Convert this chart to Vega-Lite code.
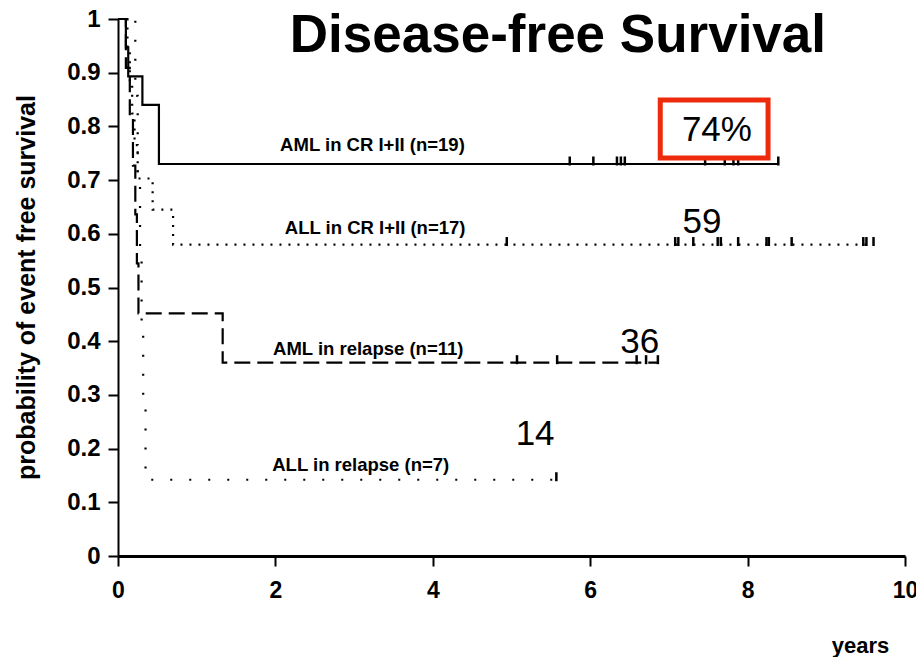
{
  "$schema": "https://vega.github.io/schema/vega-lite/v6.json",
  "width": 787,
  "height": 537,
  "autosize": {"type": "none"},
  "padding": {"left": 118, "top": 19, "right": 11, "bottom": 101},
  "background": "white",
  "config": {
    "view": {"stroke": null},
    "font": "Liberation Sans",
    "axis": {"grid": false, "domainColor": "black", "tickColor": "black", "labelColor": "black", "titleColor": "black"}
  },
  "datasets": {
    "curves": [
      {"series": "AML in CR I+II", "t": 0, "s": 1},
      {"series": "AML in CR I+II", "t": 0.1, "s": 0.947},
      {"series": "AML in CR I+II", "t": 0.13, "s": 0.893},
      {"series": "AML in CR I+II", "t": 0.31, "s": 0.84},
      {"series": "AML in CR I+II", "t": 0.52, "s": 0.73},
      {"series": "AML in CR I+II", "t": 8.39, "s": 0.73},
      {"series": "ALL in CR I+II", "t": 0, "s": 1},
      {"series": "ALL in CR I+II", "t": 0.12, "s": 0.941},
      {"series": "ALL in CR I+II", "t": 0.15, "s": 0.882},
      {"series": "ALL in CR I+II", "t": 0.18, "s": 0.824},
      {"series": "ALL in CR I+II", "t": 0.21, "s": 0.765},
      {"series": "ALL in CR I+II", "t": 0.25, "s": 0.703},
      {"series": "ALL in CR I+II", "t": 0.44, "s": 0.645},
      {"series": "ALL in CR I+II", "t": 0.7, "s": 0.58},
      {"series": "ALL in CR I+II", "t": 9.6, "s": 0.58},
      {"series": "AML in relapse", "t": 0, "s": 1},
      {"series": "AML in relapse", "t": 0.1, "s": 0.909},
      {"series": "AML in relapse", "t": 0.15, "s": 0.818},
      {"series": "AML in relapse", "t": 0.19, "s": 0.727},
      {"series": "AML in relapse", "t": 0.22, "s": 0.636},
      {"series": "AML in relapse", "t": 0.24, "s": 0.545},
      {"series": "AML in relapse", "t": 0.26, "s": 0.452},
      {"series": "AML in relapse", "t": 1.33, "s": 0.36},
      {"series": "AML in relapse", "t": 6.86, "s": 0.36},
      {"series": "ALL in relapse", "t": 0, "s": 1},
      {"series": "ALL in relapse", "t": 0.22, "s": 0.857},
      {"series": "ALL in relapse", "t": 0.25, "s": 0.714},
      {"series": "ALL in relapse", "t": 0.28, "s": 0.571},
      {"series": "ALL in relapse", "t": 0.3, "s": 0.429},
      {"series": "ALL in relapse", "t": 0.32, "s": 0.286},
      {"series": "ALL in relapse", "t": 0.35, "s": 0.142},
      {"series": "ALL in relapse", "t": 5.57, "s": 0.142}
    ],
    "censor": [
      {"series": "AML in CR I+II", "t": 5.74, "s": 0.73},
      {"series": "AML in CR I+II", "t": 6.04, "s": 0.73},
      {"series": "AML in CR I+II", "t": 6.34, "s": 0.73},
      {"series": "AML in CR I+II", "t": 6.39, "s": 0.73},
      {"series": "AML in CR I+II", "t": 6.44, "s": 0.73},
      {"series": "AML in CR I+II", "t": 7.46, "s": 0.73},
      {"series": "AML in CR I+II", "t": 7.71, "s": 0.73},
      {"series": "AML in CR I+II", "t": 7.82, "s": 0.73},
      {"series": "AML in CR I+II", "t": 7.88, "s": 0.73},
      {"series": "AML in CR I+II", "t": 8.39, "s": 0.73},
      {"series": "ALL in CR I+II", "t": 4.94, "s": 0.58},
      {"series": "ALL in CR I+II", "t": 7.08, "s": 0.58},
      {"series": "ALL in CR I+II", "t": 7.12, "s": 0.58},
      {"series": "ALL in CR I+II", "t": 7.31, "s": 0.58},
      {"series": "ALL in CR I+II", "t": 7.62, "s": 0.58},
      {"series": "ALL in CR I+II", "t": 7.66, "s": 0.58},
      {"series": "ALL in CR I+II", "t": 7.88, "s": 0.58},
      {"series": "ALL in CR I+II", "t": 8.24, "s": 0.58},
      {"series": "ALL in CR I+II", "t": 8.27, "s": 0.58},
      {"series": "ALL in CR I+II", "t": 8.56, "s": 0.58},
      {"series": "ALL in CR I+II", "t": 9.47, "s": 0.58},
      {"series": "ALL in CR I+II", "t": 9.51, "s": 0.58},
      {"series": "ALL in CR I+II", "t": 9.6, "s": 0.58},
      {"series": "AML in relapse", "t": 5.07, "s": 0.36},
      {"series": "AML in relapse", "t": 5.58, "s": 0.36},
      {"series": "AML in relapse", "t": 6.59, "s": 0.36},
      {"series": "AML in relapse", "t": 6.71, "s": 0.36},
      {"series": "AML in relapse", "t": 6.86, "s": 0.36},
      {"series": "ALL in relapse", "t": 5.57, "s": 0.142}
    ],
    "labels": [
      {"label": "AML in CR I+II (n=19)", "t": 2.06, "s": 0.765},
      {"label": "ALL in CR I+II (n=17)", "t": 2.12, "s": 0.611},
      {"label": "AML in relapse (n=11)", "t": 1.97, "s": 0.385},
      {"label": "ALL in relapse (n=7)", "t": 1.96, "s": 0.169}
    ],
    "numbers": [
      {"label": "74%", "t": 7.61, "s": 0.793},
      {"label": "59", "t": 7.42, "s": 0.622},
      {"label": "36", "t": 6.63, "s": 0.398},
      {"label": "14", "t": 5.3, "s": 0.227}
    ],
    "box": [
      {"x1": 6.89, "x2": 8.26, "y1": 0.741, "y2": 0.849}
    ],
    "heading": [
      {"label": "Disease-free Survival", "t": 5.59, "s": 0.9385}
    ]
  },
  "layer": [
    {
      "data": {"name": "curves"},
      "mark": {"type": "line", "interpolate": "step-after", "color": "black", "strokeWidth": 2.2},
      "encoding": {
        "x": {
          "field": "t", "type": "quantitative",
          "scale": {"domain": [0, 10], "nice": false},
          "axis": {
            "values": [0, 2, 4, 6, 8, 10], "format": "d", "labelFlush": false,
            "labelFontSize": 23, "labelFontWeight": "bold", "labelPadding": 13,
            "tickSize": 10, "tickWidth": 2, "domainWidth": 3,
            "title": "years", "titleFontSize": 22, "titleFontWeight": "bold",
            "titleX": 742, "titleY": 96, "titleAlign": "center", "titleBaseline": "alphabetic"
          }
        },
        "y": {
          "field": "s", "type": "quantitative",
          "scale": {"domain": [0, 1], "nice": false},
          "axis": {
            "values": [0, 0.1, 0.2, 0.3, 0.4, 0.5, 0.6, 0.7, 0.8, 0.9, 1], "format": ".1~f",
            "labelFontSize": 24, "labelFontWeight": "bold", "labelPadding": 8,
            "tickSize": 10, "tickWidth": 2, "domainWidth": 2,
            "title": "probability of event free survival", "titleFontSize": 25, "titleFontWeight": "bold",
            "titleX": -92, "titleY": 268, "titleAngle": 270, "titleAlign": "center", "titleBaseline": "middle"
          }
        },
        "strokeDash": {
          "field": "series", "type": "nominal",
          "scale": {
            "domain": ["AML in CR I+II", "ALL in CR I+II", "AML in relapse", "ALL in relapse"],
            "range": [[1, 0], [2, 7], [16, 7], [2, 17]]
          },
          "legend": null
        }
      }
    },
    {
      "data": {"name": "censor"},
      "mark": {"type": "tick", "orient": "vertical", "color": "black", "size": 9, "thickness": 2.5, "yOffset": -3, "opacity": 1},
      "encoding": {
        "x": {"field": "t", "type": "quantitative"},
        "y": {"field": "s", "type": "quantitative"}
      }
    },
    {
      "data": {"name": "labels"},
      "mark": {"type": "text", "align": "left", "baseline": "middle", "fontSize": 18.5, "fontWeight": "bold", "color": "black"},
      "encoding": {
        "x": {"field": "t", "type": "quantitative"},
        "y": {"field": "s", "type": "quantitative"},
        "text": {"field": "label"}
      }
    },
    {
      "data": {"name": "numbers"},
      "mark": {"type": "text", "align": "center", "baseline": "middle", "fontSize": 35, "color": "black"},
      "encoding": {
        "x": {"field": "t", "type": "quantitative"},
        "y": {"field": "s", "type": "quantitative"},
        "text": {"field": "label"}
      }
    },
    {
      "data": {"name": "box"},
      "mark": {"type": "rect", "filled": false, "stroke": "#ee2a0c", "strokeWidth": 5},
      "encoding": {
        "x": {"field": "x1", "type": "quantitative"},
        "x2": {"field": "x2"},
        "y": {"field": "y1", "type": "quantitative"},
        "y2": {"field": "y2"}
      }
    },
    {
      "data": {"name": "heading"},
      "mark": {"type": "text", "align": "center", "baseline": "alphabetic", "fontSize": 53, "fontWeight": "bold", "color": "black"},
      "encoding": {
        "x": {"field": "t", "type": "quantitative"},
        "y": {"field": "s", "type": "quantitative"},
        "text": {"field": "label"}
      }
    }
  ]
}
